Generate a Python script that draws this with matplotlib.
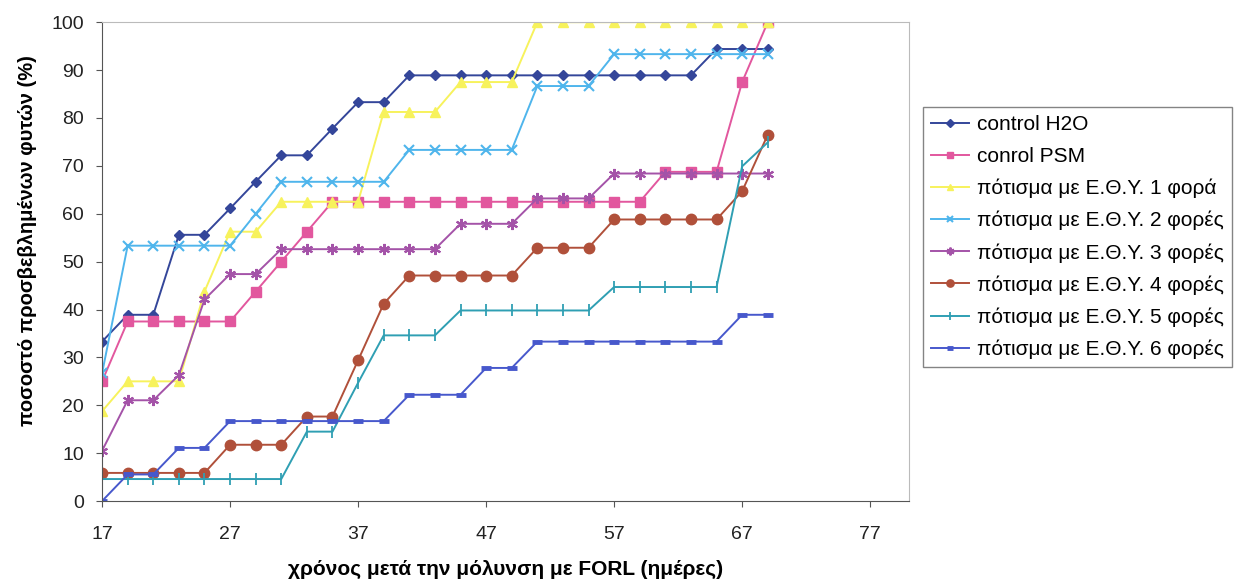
import matplotlib
matplotlib.use("Agg")
import matplotlib.pyplot as plt

plt.rcParams['font.family'] = ['Liberation Sans', 'DejaVu Sans']

# --- data ---
days = list(range(17, 70, 2))

control_h2o = [33.3, 38.9, 38.9, 55.6, 55.6, 61.1, 66.7, 72.2, 72.2, 77.8, 83.3, 83.3,
               88.9, 88.9, 88.9, 88.9, 88.9, 88.9, 88.9, 88.9, 88.9, 88.9, 88.9, 88.9,
               94.4, 94.4, 94.4]
control_psm = [25.0, 37.5, 37.5, 37.5, 37.5, 37.5, 43.75, 50.0, 56.25,
               62.5, 62.5, 62.5, 62.5, 62.5, 62.5, 62.5, 62.5, 62.5, 62.5, 62.5, 62.5, 62.5,
               68.75, 68.75, 68.75, 87.5, 100.0]
times_1 = [18.75, 25.0, 25.0, 25.0, 43.75, 56.25, 56.25, 62.5, 62.5, 62.5, 62.5,
           81.25, 81.25, 81.25, 87.5, 87.5, 87.5,
           100, 100, 100, 100, 100, 100, 100, 100, 100, 100]
times_2 = [26.67, 53.33, 53.33, 53.33, 53.33, 53.33, 60.0,
           66.67, 66.67, 66.67, 66.67, 66.67,
           73.33, 73.33, 73.33, 73.33, 73.33,
           86.67, 86.67, 86.67,
           93.33, 93.33, 93.33, 93.33, 93.33, 93.33, 93.33]
times_3 = [10.5, 21.05, 21.05, 26.3, 42.1, 47.4, 47.4,
           52.6, 52.6, 52.6, 52.6, 52.6, 52.6, 52.6,
           57.9, 57.9, 57.9, 63.2, 63.2, 63.2,
           68.4, 68.4, 68.4, 68.4, 68.4, 68.4, 68.4]
times_4 = [5.88, 5.88, 5.88, 5.88, 5.88, 11.76, 11.76, 11.76, 17.65, 17.65, 29.4, 41.2,
           47.1, 47.1, 47.1, 47.1, 47.1, 52.9, 52.9, 52.9,
           58.8, 58.8, 58.8, 58.8, 58.8, 64.7, 76.5]
times_5 = [4.6, 4.6, 4.6, 4.6, 4.6, 4.6, 4.6, 4.6, 14.5, 14.5, 24.7,
           34.6, 34.6, 34.6, 39.8, 39.8, 39.8, 39.8, 39.8, 39.8,
           44.7, 44.7, 44.7, 44.7, 44.7, 69.9, 74.9]
times_6 = [0.0, 5.56, 5.56, 11.1, 11.1, 16.7, 16.7, 16.7, 16.7, 16.7, 16.7, 16.7,
           22.2, 22.2, 22.2, 27.8, 27.8,
           33.3, 33.3, 33.3, 33.3, 33.3, 33.3, 33.3, 33.3, 38.9, 38.9]

labels = ["control H2O", "conrol PSM",
          "πότισμα με Ε.Θ.Υ. 1 φορά", "πότισμα με Ε.Θ.Υ. 2 φορές",
          "πότισμα με Ε.Θ.Υ. 3 φορές", "πότισμα με Ε.Θ.Υ. 4 φορές",
          "πότισμα με Ε.Θ.Υ. 5 φορές", "πότισμα με Ε.Θ.Υ. 6 φορές"]
x_ticks = [17, 27, 37, 47, 57, 67, 77]
y_ticks = list(range(0, 101, 10))

series = [control_h2o, control_psm, times_1, times_2, times_3, times_4, times_5, times_6]
styles = [
    dict(color="#34469a", marker="D", ms=5.5),
    dict(color="#e2579e", marker="s", ms=6.5),
    dict(color="#f7f25c", marker="^", ms=7),
    dict(color="#4fb5ec", marker="x", ms=7, mew=1.5),
    dict(color="#a453a8", marker=(6, 2, 0), ms=8, mew=1.5),
    dict(color="#b0503a", marker="o", ms=7.5),
    dict(color="#2f9fb3", marker="|", ms=8, mew=1.3),
    dict(color="#4758cc", marker="_", ms=7, mew=3.5),
]

fig = plt.figure(figsize=(12.37, 5.84), dpi=100)
ax = fig.add_axes([0.0825, 0.142, 0.652, 0.820])

for vals, lab, st in zip(series, labels, styles):
    ax.plot(days, vals, lw=1.4, label=lab, **st)

ax.set_xlim(17, 80)
ax.set_ylim(0, 100)
ax.set_xticks(x_ticks)
ax.set_yticks(y_ticks)
ax.tick_params(axis="both", labelsize=14, direction="out", length=4, color="#555555",
               labelcolor="#222222")
ax.tick_params(axis="x", pad=14)
ax.tick_params(axis="y", pad=9)
for s in ["top", "right"]:
    ax.spines[s].set_color("#bbbbbb")
for s in ["left", "bottom"]:
    ax.spines[s].set_color("#555555")

ax.set_xlabel("χρόνος μετά την μόλυνση με FORL (ημέρες)", fontsize=15, fontweight="bold")
ax.set_ylabel("ποσοστό προσβεβλημένων φυτών (%)", fontsize=14.5, fontweight="bold")
ax.xaxis.set_label_coords(0.5, -0.124)
ax.yaxis.set_label_coords(-0.081, 0.545)

leg = ax.legend(loc="upper left", bbox_to_anchor=(0.746, 0.817), bbox_transform=fig.transFigure,
                fontsize=15, frameon=True, fancybox=False, edgecolor="#666666",
                handlelength=1.8, handletextpad=0.4, labelspacing=0.61, borderaxespad=0,
                markerscale=0.7)
leg.get_frame().set_linewidth(1.0)

fig.savefig("out.png", dpi=100)
